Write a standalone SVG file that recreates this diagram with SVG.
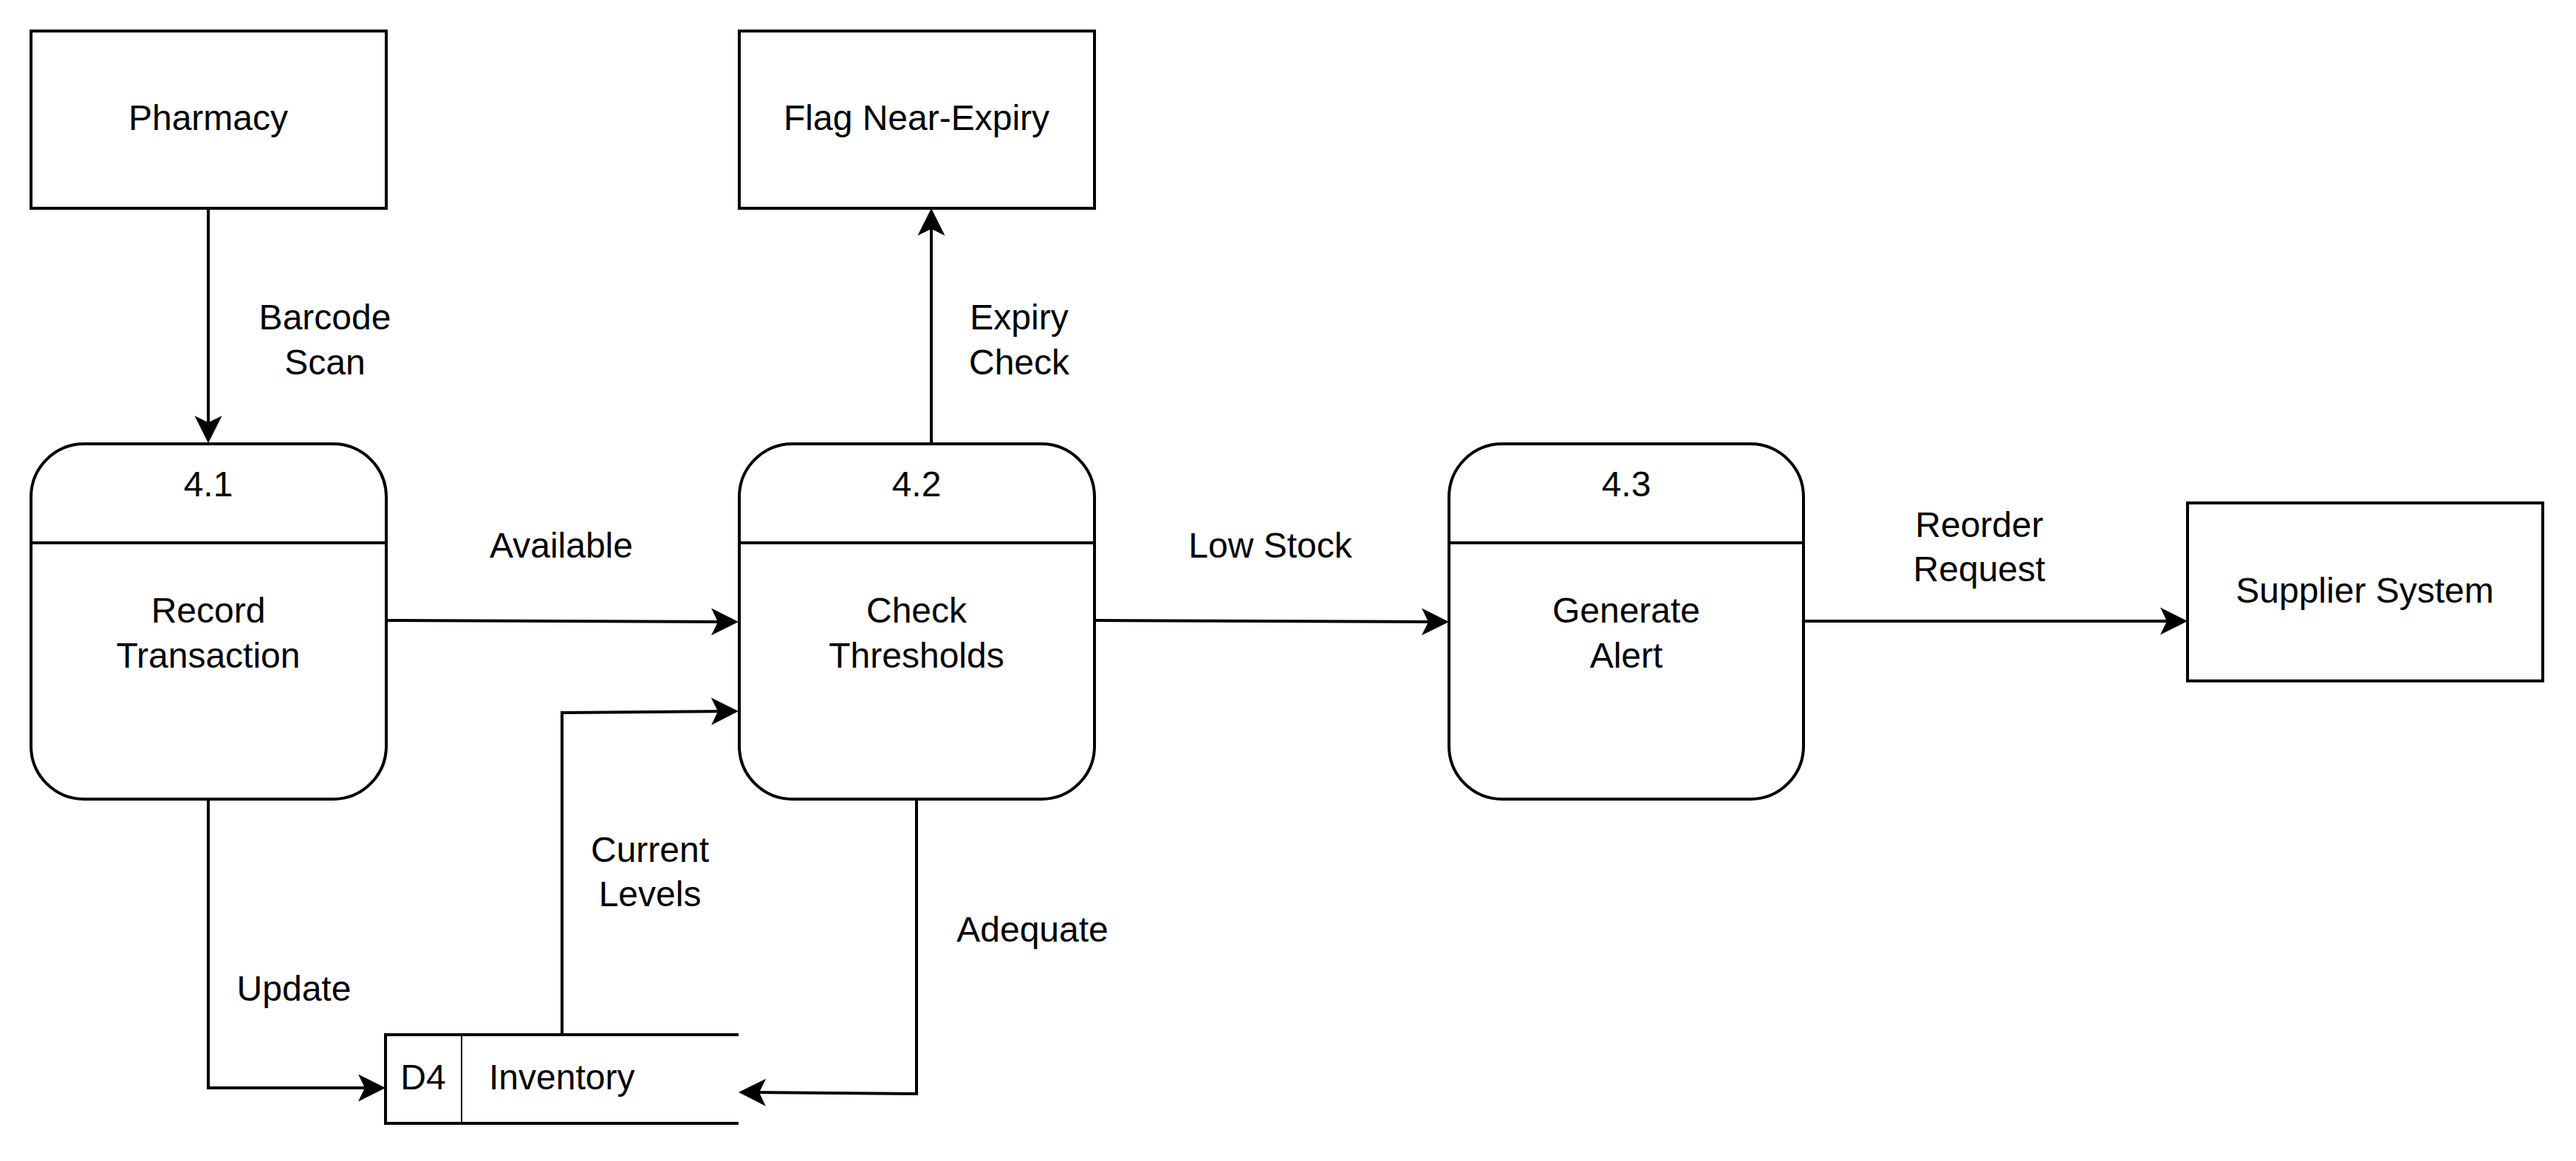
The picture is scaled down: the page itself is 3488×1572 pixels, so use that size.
<svg xmlns="http://www.w3.org/2000/svg" width="3488" height="1572" viewBox="0 0 3488 1572">
<style>
.box{fill:#fff;stroke:#000;stroke-width:4}
.ln{fill:none;stroke:#000;stroke-width:4}
.edge{fill:none;stroke:#000;stroke-width:4;marker-end:url(#arr)}
text{font-family:"Liberation Sans",Arial,Helvetica,sans-serif;font-size:48px;fill:#000}
.c{text-anchor:middle}
</style>
<defs>
<marker id="arr" markerUnits="userSpaceOnUse" markerWidth="40" markerHeight="40" viewBox="0 0 40 40" refX="27" refY="20" orient="auto">
<path d="M37,20 L0,1.5 L9,20 L0,38.5 Z" fill="#000"/>
</marker>
</defs>
<rect width="3488" height="1572" fill="#fff"/>
<g id="connectors">
<path class="edge" d="M282,282 L282,590"/>
<path class="edge" d="M523,840 L990,842"/>
<path class="edge" d="M761,1401 L761,965 L990,963"/>
<path class="edge" d="M282,1082 L282,1473 L512,1473"/>
<path class="edge" d="M1241,1082 L1241,1481 L1010,1479"/>
<path class="edge" d="M1261,600 L1261,292"/>
<path class="edge" d="M1482,840 L1952,842"/>
<path class="edge" d="M2442,841 L2952,841"/>
</g>
<g id="pharmacy">
<rect class="box" x="42" y="42" width="481" height="240"/>
<text class="c" x="282" y="176">Pharmacy</text>
</g>
<g id="flag-near-expiry">
<rect class="box" x="1001" y="42" width="481" height="240"/>
<text class="c" x="1241" y="176">Flag Near-Expiry</text>
</g>
<g id="supplier-system">
<rect class="box" x="2962" y="681" width="481" height="241"/>
<text class="c" x="3202" y="816">Supplier System</text>
</g>
<g id="p41">
<rect class="box" x="42" y="601" width="481" height="481" rx="72" ry="72"/>
<line class="ln" x1="42" y1="735" x2="523" y2="735"/>
<text class="c" x="282" y="672">4.1</text>
<text class="c" x="282" y="843">Record</text>
<text class="c" x="282" y="904">Transaction</text>
</g>
<g id="p42">
<rect class="box" x="1001" y="601" width="481" height="481" rx="72" ry="72"/>
<line class="ln" x1="1001" y1="735" x2="1482" y2="735"/>
<text class="c" x="1241" y="672">4.2</text>
<text class="c" x="1241" y="843">Check</text>
<text class="c" x="1241" y="904">Thresholds</text>
</g>
<g id="p43">
<rect class="box" x="1962" y="601" width="480" height="481" rx="72" ry="72"/>
<line class="ln" x1="1962" y1="735" x2="2442" y2="735"/>
<text class="c" x="2202" y="672">4.3</text>
<text class="c" x="2202" y="843">Generate</text>
<text class="c" x="2202" y="904">Alert</text>
</g>
<g id="d4-inventory">
<rect x="522" y="1401" width="478" height="120" fill="#fff"/>
<path class="ln" d="M1000,1401 L522,1401 L522,1521 L1000,1521"/>
<line x1="625" y1="1401" x2="625" y2="1521" stroke="#000" stroke-width="2"/>
<text class="c" x="573" y="1475">D4</text>
<text x="662" y="1475">Inventory</text>
</g>
<g id="labels">
<text class="c" x="440" y="446">Barcode</text>
<text class="c" x="440" y="507">Scan</text>
<text class="c" x="760" y="755">Available</text>
<text class="c" x="1720" y="755">Low Stock</text>
<text class="c" x="2680" y="727">Reorder</text>
<text class="c" x="2680" y="787">Request</text>
<text class="c" x="1380" y="446">Expiry</text>
<text class="c" x="1380" y="507">Check</text>
<text class="c" x="880" y="1167">Current</text>
<text class="c" x="880" y="1227">Levels</text>
<text class="c" x="398" y="1355">Update</text>
<text class="c" x="1398" y="1275">Adequate</text>
</g>
</svg>
